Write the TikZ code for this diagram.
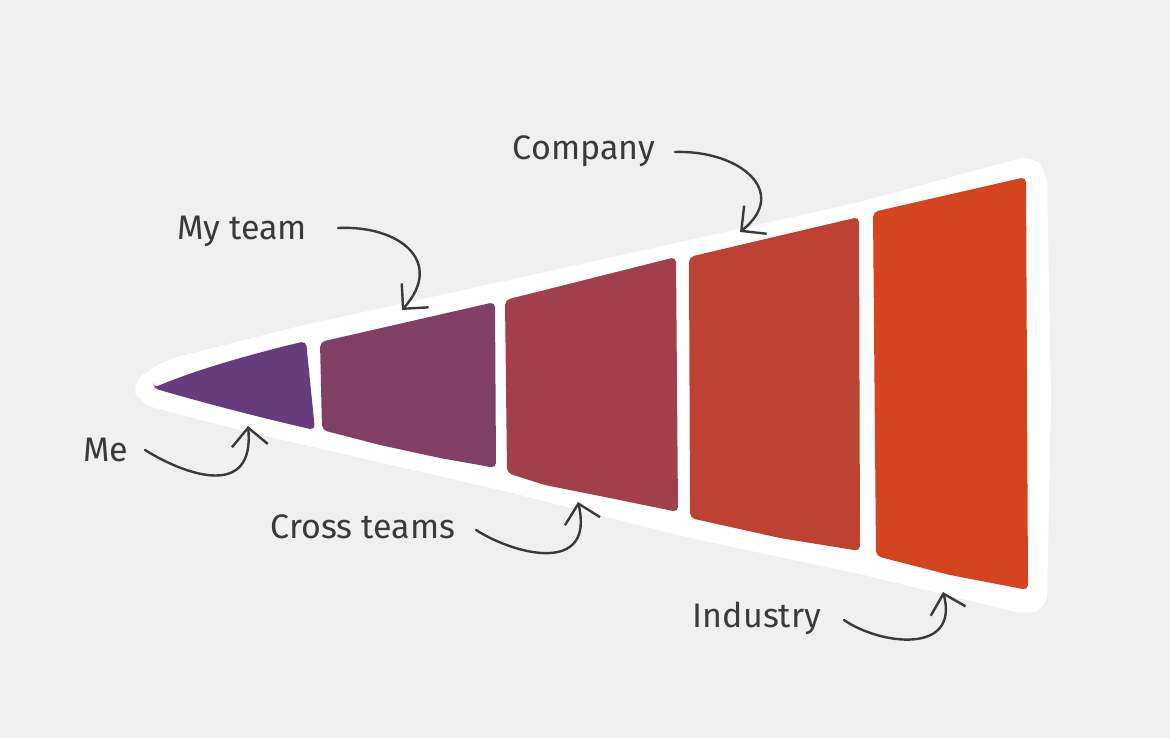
\documentclass[tikz,border=0pt]{standalone}
\usepackage{fontspec}
\newfontfamily\handfont{Fira Sans}
\usetikzlibrary{arrows.meta}
\definecolor{bg}{HTML}{F0F0F0}
\definecolor{ink}{HTML}{3A3A3A}
\definecolor{meclr}{HTML}{663C7C}
\definecolor{teamclr}{HTML}{823F66}
\definecolor{crossclr}{HTML}{A1404C}
\definecolor{compclr}{HTML}{BD4233}
\definecolor{indclr}{HTML}{D4441E}
\tikzset{
  label/.style={font=\handfont\fontsize{34}{38}\selectfont,text=ink,inner sep=2pt},
  halo/.style={fill=white,rounded corners=14pt},
  slice/.style={rounded corners=5pt},
  pointer/.style={-{Straight Barb[length=18pt,width=36pt,line width=2.4pt]},draw=ink,line width=2.4pt,line cap=round}
}
\begin{document}
\begin{tikzpicture}[x=1pt,y=-1pt]
\fill[bg] (0,0) rectangle (1170,738);
\useasboundingbox (0,0) rectangle (1170,738);
% white outline around the cone
\fill[halo] (131,383) -- (165,360) -- (300,326) -- (500,282) -- (680,242) -- (860,202) -- (1032,155) -- (1047,172) -- (1051,400) -- (1047,607) -- (1028,615) -- (860,574) -- (690,538) -- (500,490) -- (300,444) -- (240,430) -- (140,404) -- cycle;
% slices
\fill[meclr,slice] (153,388) .. controls (200,368) and (260,352) .. (306,341) -- (315,430) .. controls (270,420) and (200,402) .. cycle;
\fill[teamclr,slice] (320,342) -- (495,302) -- (496,468) -- (440,458) -- (380,445) -- (322,430) -- cycle;
\fill[crossclr,slice] (505,300) -- (676,257) -- (678,512) -- (600,496) -- (545,485) -- (507,473) -- cycle;
\fill[compclr,slice] (689,257) -- (859,217) -- (860,551) -- (780,538) -- (690,518) -- cycle;
\fill[indclr,slice] (873,212) -- (1026,177) -- (1028,590) -- (950,575) -- (876,556) -- cycle;
% arrow ends
\coordinate (meTip) at (248,426);
\coordinate (teamTip) at (402,310);
\coordinate (crossTip) at (578,502);
\coordinate (compTip) at (740,232);
\coordinate (indTip) at (943,592);
% labels
\node[label] (me) at (106,450) {Me};
\node[label] (team) at (242,231) {My team};
\node[label] (comp) at (584,151) {Company};
\node[label] (cross) at (363,527) {Cross teams};
\node[label] (ind) at (757,618) {Industry};
% pointers
\draw[pointer] (145,450) .. controls (185,475) and (255,500) .. (meTip);
\draw[pointer] (338,228) .. controls (400,225) and (445,262) .. (teamTip);
\draw[pointer] (675,152) .. controls (740,150) and (790,192) .. (compTip);
\draw[pointer] (476,530) .. controls (515,555) and (595,575) .. (crossTip);
\draw[pointer] (844,620) .. controls (880,645) and (960,655) .. (indTip);
\end{tikzpicture}
\end{document}
